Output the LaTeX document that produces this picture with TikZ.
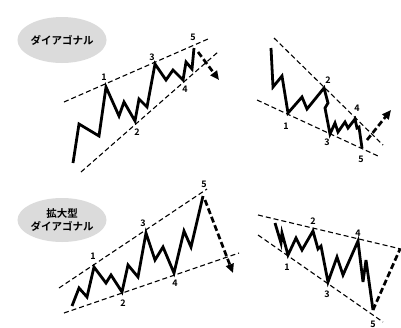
\documentclass[tikz,border=0pt]{standalone}
\usepackage{fontspec}
\newfontfamily\jpfont{Noto Sans CJK JP}[BoldFont={Noto Sans CJK JP Bold}]
\usetikzlibrary{arrows.meta,shapes.geometric}
\begin{document}
\begin{tikzpicture}[x=1pt,y=-1pt,
  wave/.style={line width=2.8pt,line join=miter,miter limit=6},
  guide/.style={line width=1.1pt,dash pattern=on 5pt off 3pt},
  breakout/.style={line width=2.7pt,dash pattern=on 6pt off 3pt},
  tip/.style={-{Triangle[length=9pt,width=8pt]}},
  lbl/.style={font=\jpfont\bfseries\fontsize{9}{10}\selectfont,inner sep=0pt},
  title/.style={ellipse,fill=black!14,minimum width=80pt,inner sep=0pt,align=center,
    font=\jpfont\bfseries\fontsize{10.5}{12.5}\selectfont}]
\useasboundingbox (0,0) rectangle (401,327);
% titles
\node[title,minimum height=46pt] (t1) at (62,40) {ダイアゴナル};
\node[title,minimum height=44pt] (t2) at (62,220) {拡大型\\ダイアゴナル};
% ---------- panel 1 ----------
\coordinate (a0) at (73,163); \coordinate (a1) at (106,87); \coordinate (a2) at (135,121);
\coordinate (a3) at (155,64); \coordinate (a4) at (183,80); \coordinate (a5) at (194,48);
\coordinate (au0) at (64,102); \coordinate (au1) at (208,39);
\coordinate (al0) at (81,172); \coordinate (al1) at (218,52);
\coordinate (as) at (198,52); \coordinate (ae) at (219,80);
\draw[guide] (au0) -- (au1);
\draw[guide] (al0) -- (al1);
\draw[wave] (a0) -- (79,124) -- (99,136) -- (a1) -- (119,116) -- (124,102) -- (a2)
  -- (139,99) -- (147,107) -- (a3) -- (166,80) -- (173,70) -- (a4) -- (186,62) -- (192,69) -- (a5);
\draw[breakout,tip] (as) -- (ae);
\node[lbl] (a1l) at (104,77) {1};
\node[lbl] (a2l) at (137,132) {2};
\node[lbl] (a3l) at (152,57) {3};
\node[lbl] (a4l) at (185,89) {4};
\node[lbl] (a5l) at (193,37) {5};
% ---------- panel 2 ----------
\coordinate (b0) at (271,48); \coordinate (b1) at (288,113); \coordinate (b2) at (324,88);
\coordinate (b3) at (330,134); \coordinate (b4) at (355,119); \coordinate (b5) at (362,148);
\coordinate (bu0) at (274,38); \coordinate (bu1) at (383,145);
\coordinate (bl0) at (257,100); \coordinate (bl1) at (378,156);
\coordinate (bs) at (367,140); \coordinate (be) at (391,110);
\draw[guide] (bu0) -- (bu1);
\draw[guide] (bl0) -- (bl1);
\draw[wave] (b0) -- (273,87) -- (282,76) -- (b1) -- (302,97) -- (307,109) -- (b2)
  -- (328,103) -- (325,108) -- (b3) -- (335,123) -- (338,132) -- (345,122) -- (348,128)
  -- (b4) -- (357,128) -- (359,127) -- (b5);
\draw[breakout,tip] (bs) -- (be);
\node[lbl] (b1l) at (286,126) {1};
\node[lbl] (b2l) at (328,80) {2};
\node[lbl] (b3l) at (327,142) {3};
\node[lbl] (b4l) at (357,108) {4};
\node[lbl] (b5l) at (361,159) {5};
% ---------- panel 3 ----------
\coordinate (c0) at (72,306); \coordinate (c1) at (94,267); \coordinate (c2) at (122,292);
\coordinate (c3) at (146,233); \coordinate (c4) at (174,273); \coordinate (c5) at (203,196);
\coordinate (cu0) at (59,288); \coordinate (cu1) at (207,189);
\coordinate (cl0) at (64,313); \coordinate (cl1) at (239,253);
\coordinate (cs) at (205,200); \coordinate (ce) at (233,273);
\draw[guide] (cu0) -- (cu1);
\draw[guide] (cl0) -- (cl1);
\draw[wave] (c0) -- (79,288) -- (87,297) -- (c1) -- (106,283) -- (111,275) -- (c2)
  -- (128,265) -- (138,277) -- (c3) -- (155,260) -- (163,247) -- (c4) -- (184,231) -- (191,247) -- (c5);
\draw[breakout,tip] (cs) -- (ce);
\node[lbl] (c1l) at (93,256) {1};
\node[lbl] (c2l) at (123,303) {2};
\node[lbl] (c3l) at (143,223) {3};
\node[lbl] (c4l) at (175,283) {4};
\node[lbl] (c5l) at (204,184) {5};
% ---------- panel 4 ----------
\coordinate (d0) at (275,223); \coordinate (d1) at (288,255); \coordinate (d2) at (313,231);
\coordinate (d3) at (328,282); \coordinate (d4) at (358,241); \coordinate (d5) at (373,310);
\coordinate (du0) at (258,215); \coordinate (du1) at (401,249);
\coordinate (dl0) at (258,235); \coordinate (dl1) at (383,322);
\coordinate (de) at (400,249);
\draw[guide] (du0) -- (du1);
\draw[guide] (dl0) -- (dl1);
\draw[wave] (d0) -- (281,243) -- (282,233) -- (d1) -- (296,238) -- (302,250) -- (d2)
  -- (318,249) -- (321,246) -- (d3) -- (337,257) -- (343,275) -- (d4) -- (363,282) -- (366,260) -- (d5);
\draw[breakout] (d5) -- (de);
\node[lbl] (d1l) at (287,267) {1};
\node[lbl] (d2l) at (313,221) {2};
\node[lbl] (d3l) at (327,294) {3};
\node[lbl] (d4l) at (358,233) {4};
\node[lbl] (d5l) at (373,324) {5};
\end{tikzpicture}
\end{document}
